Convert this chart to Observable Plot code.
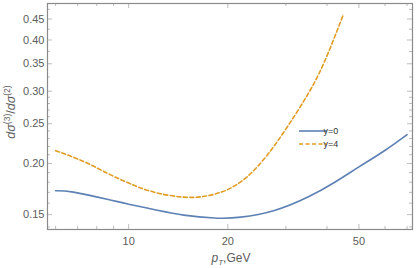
<!DOCTYPE html>
<html><head><meta charset="utf-8">
<script src="https://cdn.jsdelivr.net/npm/d3@7"></script>
<script src="https://cdn.jsdelivr.net/npm/@observablehq/plot@0.6"></script>
<style>body{margin:0;background:#fff} svg{display:block}</style>
</head><body><div id="chart"></div>
<script>
// y = 0 curve
const pT0 = [6, 6.8, 8.6, 10, 12.2, 14.7, 18.2, 21.9, 27.7, 35, 42.1, 50, 59.9, 70];
const ratio0 = [0.1716, 0.1702, 0.1636, 0.1591, 0.1538, 0.1496, 0.1472, 0.1479, 0.1536, 0.1656, 0.1797, 0.1961, 0.2151, 0.2352];
// y = 4 curve
const pT4 = [6, 7.3, 8.6, 10, 11.9, 14.7, 17.3, 20, 23, 26.4, 30.4, 35, 39.3, 44.7];
const ratio4 = [0.2149, 0.2022, 0.1894, 0.1791, 0.1703, 0.1655, 0.1667, 0.1728, 0.1862, 0.2101, 0.2465, 0.2951, 0.3542, 0.4585];

const seriesNames = ["y=0", "y=4"];
const seriesColors = ["#5E81B5", "#E19C24"];

const xTicks = [10, 20, 50];
const xMinor = [6, 7, 8, 9, 30, 40, 60, 70];
const yTicks = [0.15, 0.20, 0.25, 0.30, 0.35, 0.40, 0.45];
const yMinor = [0.14, 0.16, 0.17, 0.18, 0.19, 0.21, 0.22, 0.23, 0.24, 0.26, 0.27, 0.28, 0.29, 0.325, 0.375, 0.425, 0.475];

const xDomain = [5.67, 72.7];
const yDomain = [0.138, 0.491];

const W = 417, H = 268;
const mL = 47, mR = 5, mT = 3, mB = 39;
const innerW = W - mL - mR, innerH = H - mT - mB;

const d0 = pT0.map((x, i) => ({x, y: ratio0[i]}));
const d4 = pT4.map((x, i) => ({x, y: ratio4[i]}));

const labelColor = "#5c5c5c";
const tickColor = "#bdbdbd";

const plot = Plot.plot({
  width: W, height: H,
  marginLeft: mL, marginRight: mR, marginTop: mT, marginBottom: mB,
  style: {fontFamily: "'Liberation Sans', Arial, sans-serif", fontSize: "11px", background: "#fff", overflow: "visible"},
  x: {type: "log", domain: xDomain, label: null},
  y: {type: "log", domain: yDomain, label: null},
  marks: [
    Plot.tickX(xTicks, {x: d => d, insetTop: innerH - 5, stroke: tickColor}),
    Plot.tickX(xMinor, {x: d => d, insetTop: innerH - 3, stroke: tickColor}),
    Plot.tickX(xTicks, {x: d => d, insetBottom: innerH - 5, stroke: tickColor}),
    Plot.tickX(xMinor, {x: d => d, insetBottom: innerH - 3, stroke: tickColor}),
    Plot.tickY(yTicks, {y: d => d, insetRight: innerW - 5, stroke: tickColor}),
    Plot.tickY(yMinor, {y: d => d, insetRight: innerW - 3, stroke: tickColor}),
    Plot.tickY(yTicks, {y: d => d, insetLeft: innerW - 5, stroke: tickColor}),
    Plot.tickY(yMinor, {y: d => d, insetLeft: innerW - 3, stroke: tickColor}),
    Plot.axisX({ticks: xTicks, tickSize: 0, tickPadding: 8, tickFormat: d => String(d), fill: labelColor, label: null}),
    Plot.axisY({ticks: yTicks, tickSize: 0, tickPadding: 3, tickFormat: d3.format(".2f"), fill: labelColor, label: null}),
    Plot.lineY(d0, {x: "x", y: "y", stroke: seriesColors[0], strokeWidth: 1.6, curve: "natural"}),
    Plot.lineY(d4, {x: "x", y: "y", stroke: seriesColors[1], strokeWidth: 1.6, strokeDasharray: "4,2.5", curve: "natural"}),
    Plot.frame({stroke: "#8a8a8a", strokeWidth: 1.2})
  ]
});
document.getElementById("chart").appendChild(plot);

const svg = d3.select(plot);
const ff = "'Liberation Sans', Arial, sans-serif";

// x axis label
const xl = svg.append("text").attr("x", 231).attr("y", 262).attr("text-anchor", "middle")
  .attr("font-family", ff).attr("font-size", 12).attr("fill", labelColor);
xl.append("tspan").attr("font-style", "italic").text("p");
xl.append("tspan").attr("font-style", "italic").attr("font-size", 8).attr("dy", 3).text("T");
xl.append("tspan").attr("dy", -3).text(",GeV");

// y axis label
const yl = svg.append("text").attr("transform", "translate(15,112) rotate(-90)").attr("text-anchor", "middle")
  .attr("font-family", ff).attr("font-size", 12.5).attr("fill", labelColor);
yl.append("tspan").attr("font-style", "italic").text("dσ");
yl.append("tspan").attr("font-size", 8.5).attr("dy", -5).text("(3)");
yl.append("tspan").attr("dy", 5).text("/");
yl.append("tspan").attr("font-style", "italic").text("dσ");
yl.append("tspan").attr("font-size", 8.5).attr("dy", -5).text("(2)");

// legend
const leg = svg.append("g");
seriesNames.forEach((name, i) => {
  const yy = 131 + i * 13;
  leg.append("line").attr("x1", 299).attr("x2", 327).attr("y1", yy).attr("y2", yy)
    .attr("stroke", seriesColors[i]).attr("stroke-width", 1.6)
    .attr("stroke-dasharray", i === 1 ? "4,2.5" : null);
  leg.append("text").attr("x", 331).attr("y", yy + 3.3).attr("font-family", ff).attr("font-size", 9)
    .attr("fill", "#333").text(name);
});
</script>
</body></html>
